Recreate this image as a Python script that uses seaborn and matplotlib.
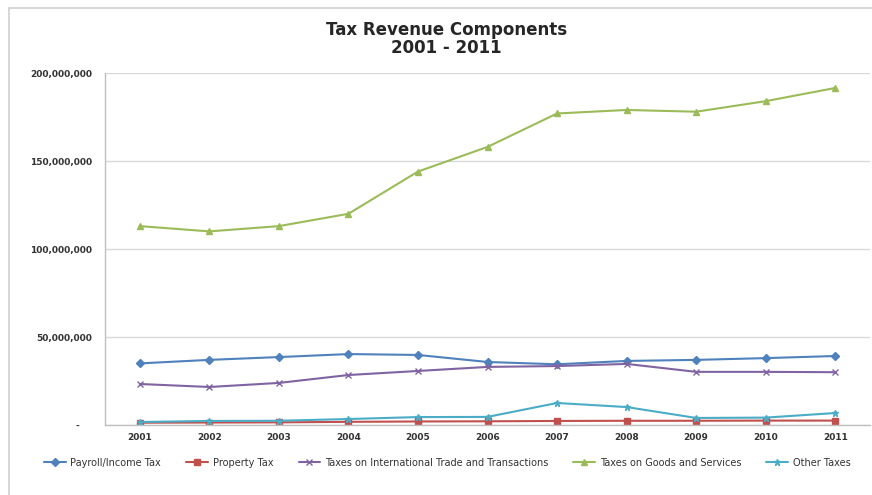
import matplotlib
matplotlib.use("Agg")
import matplotlib.pyplot as plt
from matplotlib.patches import Rectangle
from matplotlib.ticker import FuncFormatter
import seaborn as sns
import pandas as pd

years = ["2001", "2002", "2003", "2004", "2005", "2006", "2007", "2008", "2009", "2010", "2011"]

payroll_income = [35.0e6, 37.0e6, 38.6e6, 40.3e6, 39.8e6, 35.8e6, 34.5e6, 36.4e6, 37.0e6, 38.0e6, 39.2e6]
property_tax = [1.3e6, 1.4e6, 1.5e6, 1.8e6, 2.0e6, 2.1e6, 2.3e6, 2.4e6, 2.4e6, 2.5e6, 2.5e6]
intl_trade = [23.3e6, 21.6e6, 23.9e6, 28.4e6, 30.7e6, 33.0e6, 33.5e6, 34.7e6, 30.2e6, 30.2e6, 30.0e6]
goods_services = [113.0e6, 110.0e6, 113.0e6, 120.0e6, 144.0e6, 158.0e6, 177.0e6, 179.0e6, 178.0e6, 184.0e6, 191.5e6]
other_taxes = [1.7e6, 2.3e6, 2.4e6, 3.4e6, 4.5e6, 4.6e6, 12.5e6, 10.2e6, 4.0e6, 4.2e6, 6.8e6]

series_names = [
    "Payroll/Income Tax",
    "Property Tax",
    "Taxes on International Trade and Transactions",
    "Taxes on Goods and Services",
    "Other Taxes",
]
series_values = [payroll_income, property_tax, intl_trade, goods_services, other_taxes]
series_colors = ["#4F81BD", "#C0504D", "#8064A2", "#9BBB59", "#4BACC6"]
series_markers = ["D", "s", "x", "^", "*"]
marker_sizes = [4.5, 5, 4, 4, 5]

rows = []
for name, vals in zip(series_names, series_values):
    for i, (yr, v) in enumerate(zip(years, vals)):
        rows.append({"Year": yr, "pos": i, "Series": name, "Value": v})
df = pd.DataFrame(rows)

sns.set_theme(style="white")
plt.rcParams["font.family"] = ["DejaVu Sans"]

fig = plt.figure(figsize=(8.72, 4.95), dpi=100)
ax = fig.add_axes([105 / 872, 70 / 495, 765 / 872, 352 / 495])

for name, col, mk, ms in zip(series_names, series_colors, series_markers, marker_sizes):
    sub = df[df["Series"] == name]
    sns.lineplot(data=sub, x="pos", y="Value", ax=ax, color=col, marker=mk,
                 markersize=ms, linewidth=1.5, label=name,
                 markeredgecolor=col, markeredgewidth=1.0, legend=False)

ax.set_xlim(-0.5, len(years) - 0.5)
ax.set_ylim(0, 200e6)
ax.set_xticks(range(len(years)))
ax.set_xticklabels(years)
ax.set_yticks([0, 50e6, 100e6, 150e6, 200e6])
ax.yaxis.set_major_formatter(FuncFormatter(lambda v, p: "-    " if v == 0 else f"{v:,.0f}"))
ax.set_xlabel("")
ax.set_ylabel("")

ax.grid(axis="y", color="#D9D9D9", linewidth=1.0)
ax.set_axisbelow(True)
for s in ["top", "right"]:
    ax.spines[s].set_visible(False)
for s in ["left", "bottom"]:
    ax.spines[s].set_color("#BFBFBF")
    ax.spines[s].set_linewidth(1.0)

ax.tick_params(axis="both", which="major", labelsize=6.5, colors="#333333", length=0)
for lbl in ax.get_xticklabels() + ax.get_yticklabels():
    lbl.set_fontweight("bold")
ax.tick_params(axis="y", pad=9)
ax.tick_params(axis="x", pad=6)
# minor tick marks between categories on the x axis
ax.set_xticks([i + 0.5 for i in range(-1, len(years))], minor=True)
ax.tick_params(axis="x", which="minor", length=4, color="#BFBFBF", direction="out")

fig.text(0.512, 0.94, "Tax Revenue Components", ha="center", va="center",
         fontsize=12, fontweight="bold", color="#262626")
fig.text(0.512, 0.903, "2001 - 2011", ha="center", va="center",
         fontsize=12, fontweight="bold", color="#262626")

handles, labels = ax.get_legend_handles_labels()
leg = fig.legend(handles, labels, loc="center", bbox_to_anchor=(0.513, 0.065),
                 ncol=5, frameon=False, fontsize=7.0, handlelength=2.2,
                 columnspacing=2.6, handletextpad=0.5)
for t in leg.get_texts():
    t.set_color("#333333")

# chart area border
fig.patches.append(Rectangle((9 / 872, -0.1), 1.2, 1.1 - 8 / 495, transform=fig.transFigure,
                             fill=False, edgecolor="#D0D0D0", linewidth=1.2))

fig.savefig("out.png", dpi=100)
